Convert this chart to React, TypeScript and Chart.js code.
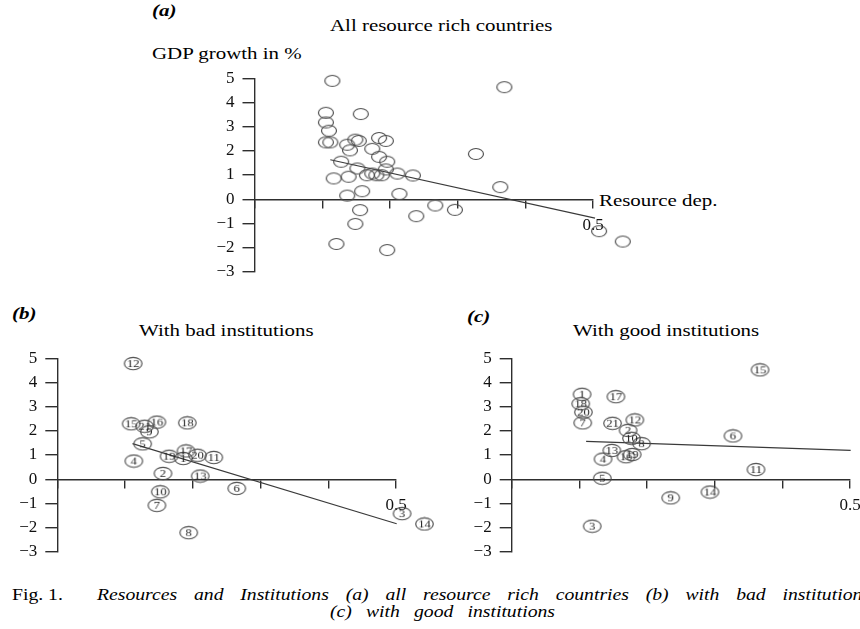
import React, { useEffect, useRef } from "react";
import { Chart, registerables } from "chart.js";

Chart.register(...registerables);

const SERIF = "'Liberation Serif', 'Times New Roman', Times, serif";

// ---------- data ----------
// (a) all resource rich countries
const allX = [0.115, 0.369, 0.1055, 0.157, 0.1055, 0.11, 0.1055, 0.112, 0.149, 0.154, 0.184, 0.194, 0.137, 0.141,
  0.174, 0.184, 0.196, 0.128, 0.327, 0.152, 0.117, 0.139, 0.166, 0.174, 0.18, 0.188, 0.194, 0.211, 0.234, 0.363,
  0.137, 0.159, 0.214, 0.156, 0.149, 0.239, 0.267, 0.296, 0.121, 0.196, 0.509, 0.544];
const allY = [4.89, 4.63, 3.57, 3.52, 3.17, 2.83, 2.35, 2.35, 2.46, 2.41, 2.53, 2.41, 2.25, 2.02,
  2.08, 1.75, 1.55, 1.55, 1.87, 1.27, 0.86, 0.93, 0.99, 1.06, 0.99, 0.99, 1.23, 1.06, 0.98, 0.5,
  0.15, 0.33, 0.22, -0.45, -1.02, -0.7, -0.26, -0.44, -1.85, -2.1, -1.32, -1.75];
const allFitX = [0.112, 0.503];
const allFitY = [1.63, -0.78];

// (b) with bad institutions
const badIds = [1, 2, 3, 4, 5, 6, 7, 8, 9, 10, 11, 12, 13, 14, 15, 16, 17, 18, 19, 20, 21];
const badX = [0.186, 0.156, 0.509, 0.113, 0.126, 0.265, 0.147, 0.194, 0.136, 0.152, 0.231,
  0.112, 0.211, 0.542, 0.109, 0.147, 0.19, 0.192, 0.165, 0.207, 0.129];
const badY = [0.86, 0.24, -1.42, 0.75, 1.46, -0.38, -1.08, -2.21, 1.96, -0.52, 0.9,
  4.78, 0.13, -1.85, 2.29, 2.36, 1.17, 2.33, 0.95, 0.99, 2.19];
const badFitX = [0.111, 0.501];
const badFitY = [1.47, -1.84];

// (c) with good institutions
const goodIds = [1, 2, 3, 4, 5, 6, 7, 8, 9, 10, 11, 12, 13, 14, 15, 16, 17, 18, 19, 20, 21];
const goodX = [0.104, 0.172, 0.119, 0.135, 0.134, 0.327, 0.105, 0.192, 0.235, 0.177, 0.361,
  0.182, 0.148, 0.293, 0.367, 0.169, 0.154, 0.102, 0.178, 0.106, 0.149];
const goodY = [3.51, 2.02, -1.94, 0.83, 0.04, 1.79, 2.33, 1.47, -0.77, 1.69, 0.4,
  2.45, 1.19, -0.53, 4.52, 0.93, 3.41, 3.12, 1.02, 2.77, 2.31];
const goodFitX = [0.11, 0.501];
const goodFitY = [1.56, 1.19];

// axes
const yMin = -3;
const yMax = 5;
const xMin = 0;
const xMax = 0.5;
const xLabelled = ["0.5"];

const Y_AXIS_W = 40;

// ---------- helpers ----------
function makeMarker(label: string | null): HTMLCanvasElement {
  const c = document.createElement("canvas");
  const w = label ? 21 : 18;
  const h = label ? 15 : 14;
  c.width = w;
  c.height = h;
  const ctx = c.getContext("2d")!;
  ctx.strokeStyle = "#4d4d4d";
  ctx.lineWidth = 1.15;
  ctx.beginPath();
  ctx.ellipse(w / 2, h / 2, label ? 8.8 : 7.5, label ? 6.2 : 5.5, 0, 0, Math.PI * 2);
  ctx.stroke();
  if (label) {
    ctx.save();
    ctx.translate(w / 2, h / 2 + 0.6);
    ctx.scale(1.15, 1);
    ctx.fillStyle = "#1e1e1e";
    ctx.font = `11px ${SERIF}`;
    ctx.textAlign = "center";
    ctx.textBaseline = "middle";
    ctx.fillText(label, 0, 0);
    ctx.restore();
  }
  return c;
}

type PanelProps = {
  left: number;
  top: number;
  width: number;
  height: number;
  pad: { left: number; right: number; top: number; bottom: number };
  xs: number[];
  ys: number[];
  ids: number[] | null;
  fitX: number[];
  fitY: number[];
};

function Panel(p: PanelProps) {
  const ref = useRef<HTMLCanvasElement>(null);
  useEffect(() => {
    if (!ref.current) return;
    const imgs = p.xs.map((_, i) => makeMarker(p.ids ? String(p.ids[i]) : null));
    const axisColor = "#2e2e2e";
    const tickFont = { family: SERIF, size: 17 };
    const chart = new Chart(ref.current, {
      type: "scatter",
      data: {
        datasets: [
          {
            data: p.xs.map((x, i) => ({ x, y: p.ys[i] })),
            pointStyle: imgs as any,
            pointRadius: 40,
            pointHoverRadius: 40,
            borderColor: "#4d4d4d",
            backgroundColor: "transparent",
            clip: false as any,
          },
          {
            data: p.fitX.map((x, i) => ({ x, y: p.fitY[i] })),
            showLine: true,
            pointRadius: 0,
            borderColor: "#3a3a3a",
            borderWidth: 1.2,
            clip: false as any,
          },
        ],
      },
      options: {
        animation: false,
        responsive: false,
        devicePixelRatio: 1,
        events: [],
        layout: { padding: p.pad, autoPadding: false },
        plugins: { legend: { display: false }, tooltip: { enabled: false } },
        scales: {
          x: {
            type: "linear",
            min: xMin,
            max: xMax,
            position: { y: 0 } as any,
            border: { display: true, color: axisColor, width: 1.4 },
            grid: { drawOnChartArea: false, drawTicks: true, tickLength: 8, color: axisColor, lineWidth: 1.4 },
            ticks: {
              stepSize: 0.1,
              autoSkip: false,
              maxRotation: 0,
              padding: 8,
              color: "#111",
              font: tickFont,
              callback: (v: any) => {
                const s = (Math.round(Number(v) * 10) / 10).toFixed(1);
                return xLabelled.includes(s) ? s : "";
              },
            },
          },
          y: {
            type: "linear",
            min: yMin,
            max: yMax,
            position: "left",
            afterFit: (s: any) => {
              s.width = Y_AXIS_W;
            },
            border: { display: true, color: axisColor, width: 1.4 },
            grid: { drawOnChartArea: false, drawTicks: true, tickLength: 12, color: axisColor, lineWidth: 1.4 },
            ticks: {
              stepSize: 1,
              padding: 8,
              color: "#111",
              font: tickFont,
              callback: (v: any) => {
                const n = Number(v);
                return n < 0 ? "\u2212" + Math.abs(n) : String(n);
              },
            },
          },
        },
      },
    });
    return () => chart.destroy();
  }, []);
  return (
    <canvas
      ref={ref}
      width={p.width}
      height={p.height}
      style={{ position: "absolute", left: p.left, top: p.top, width: p.width, height: p.height }}
    />
  );
}

function Txt(props: { x: number; y: number; text: string; italic?: boolean; bold?: boolean; size?: number }) {
  return (
    <div
      style={{
        position: "absolute",
        left: props.x,
        top: props.y,
        transform: "translateY(-50%) scaleX(1.23)",
        transformOrigin: "left center",
        whiteSpace: "nowrap",
        fontFamily: SERIF,
        fontSize: props.size ?? 17,
        lineHeight: 1,
        fontStyle: props.italic ? "italic" : "normal",
        fontWeight: props.bold ? "bold" : "normal",
        color: "#000",
      }}
    >
      {props.text}
    </div>
  );
}

function Justified(props: { x: number; y: number; w: number; text: string; size: number }) {
  return (
    <div
      style={{
        position: "absolute",
        left: props.x,
        top: props.y,
        width: props.w / 1.23,
        transform: "translateY(-50%) scaleX(1.23)",
        transformOrigin: "left center",
        textAlign: "justify",
        textAlignLast: "justify" as any,
        fontFamily: SERIF,
        fontSize: props.size,
        lineHeight: 1,
        fontStyle: "italic",
        color: "#000",
      }}
    >
      {props.text}
    </div>
  );
}

export default function App() {
  return (
    <div
      style={{
        position: "absolute",
        left: 0,
        top: 0,
        width: 860,
        height: 629,
        overflow: "hidden",
        background: "#fff",
      }}
    >
      <Txt x={152} y={10} text="(a)" italic bold />
      <Txt x={330} y={25} text="All resource rich countries" />
      <Txt x={152} y={53} text="GDP growth in %" />
      <Txt x={599} y={200} text="Resource dep." />
      <Panel
        left={190}
        top={60}
        width={470}
        height={230}
        pad={{ left: 64.5 - Y_AXIS_W, right: 67, top: 13.3, bottom: 15 }}
        xs={allX}
        ys={allY}
        ids={null}
        fitX={allFitX}
        fitY={allFitY}
      />

      <Txt x={12} y={313} text="(b)" italic bold />
      <Txt x={139} y={330} text="With bad institutions" />
      <Panel
        left={0}
        top={340}
        width={460}
        height={230}
        pad={{ left: 57.3 - Y_AXIS_W, right: 64, top: 11.7, bottom: 16.7 }}
        xs={badX}
        ys={badY}
        ids={badIds}
        fitX={badFitX}
        fitY={badFitY}
      />

      <Txt x={467} y={316} text="(c)" italic bold />
      <Txt x={573} y={330} text="With good institutions" />
      <Panel
        left={460}
        top={340}
        width={430}
        height={230}
        pad={{ left: 51.7 - Y_AXIS_W, right: 40, top: 12.3, bottom: 16 }}
        xs={goodX}
        ys={goodY}
        ids={goodIds}
        fitX={goodFitX}
        fitY={goodFitY}
      />

      <Txt x={12} y={595} text="Fig. 1." size={16} />
      <Justified
        x={97}
        y={595}
        w={773}
        size={16}
        text="Resources and Institutions (a) all resource rich countries (b) with bad institutions"
      />
      <Justified x={330} y={612} w={225} size={16} text="(c) with good institutions" />
    </div>
  );
}
